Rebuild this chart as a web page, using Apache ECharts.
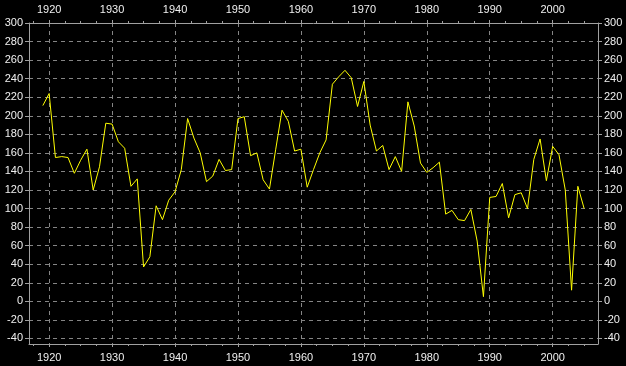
<!DOCTYPE html>
<html>
<head>
<meta charset="utf-8">
<script src="https://cdn.jsdelivr.net/npm/echarts@6/dist/echarts.min.js"></script>
<style>
html,body{margin:0;padding:0;background:#000;}
#c{width:626px;height:366px;}
</style>
</head>
<body>
<div id="c"></div>
<script>
const years = [];
for (let y = 1919; y <= 2005; y++) years.push(y);
const values = [
  211, 224, 155, 156, 155, 138, 152, 164, 120, 145,
  192, 191, 172, 165, 124, 132, 37, 48, 103, 88,
  109, 118, 142, 197, 176, 160, 129, 135, 153, 141,
  142, 197, 199, 157, 160, 131, 121, 164, 206, 194,
  162, 164, 123, 142, 160, 174, 234, 242, 249, 241,
  210, 237, 190, 162, 168, 142, 156, 140, 215, 189,
  149, 139, 144, 150, 94, 98, 88, 87, 99, 65,
  5, 112, 113, 127, 90, 115, 117, 100, 153, 175,
  130, 167, 158, 120, 12, 124, 100
];
const xMajorTicks = [1920, 1930, 1940, 1950, 1960, 1970, 1980, 1990, 2000];
const xMinorTicks = [1917.5, 1922.5, 1925, 1927.5, 1932.5, 1935, 1937.5, 1942.5, 1945, 1947.5,
  1952.5, 1955, 1957.5, 1962.5, 1965, 1967.5, 1972.5, 1975, 1977.5, 1982.5, 1985, 1987.5,
  1992.5, 1995, 1997.5, 2002.5, 2005];
const yTicks = [-40, -20, 0, 20, 40, 60, 80, 100, 120, 140, 160, 180, 200, 220, 240, 260, 280, 300];

const X_MIN = 1916.8, X_MAX = 2007.2, Y_MIN = -46, Y_MAX = 300;
const axisCol = '#a0a0a0', gridCol = '#858585', textCol = '#f0f0f0';
const font = {color: textCol, fontSize: 11, fontFamily: 'Liberation Sans, Arial, sans-serif'};
const plain = v => String(v);

function xAxisMajor(pos, split) {
  return {
    type: 'value', position: pos, min: X_MIN, max: X_MAX,
    axisLine: {show: true, onZero: false, lineStyle: {color: axisCol, width: 1}},
    axisTick: {show: true, inside: false, length: 3, customValues: xMajorTicks, lineStyle: {color: axisCol}},
    axisLabel: Object.assign({show: true, margin: 8, customValues: xMajorTicks, formatter: plain}, font),
    splitLine: {show: split, lineStyle: {color: gridCol, type: [4, 4], width: 1}}
  };
}
function xAxisMinor(pos) {
  return {
    type: 'value', position: pos, min: X_MIN, max: X_MAX,
    axisLine: {show: false, onZero: false},
    axisTick: {show: true, inside: false, length: 2, customValues: xMinorTicks, lineStyle: {color: axisCol}},
    axisLabel: {show: false},
    splitLine: {show: false}
  };
}
function yAxis(pos, split) {
  return {
    type: 'value', position: pos, min: Y_MIN, max: Y_MAX,
    axisLine: {show: true, onZero: false, lineStyle: {color: axisCol, width: 1}},
    axisTick: {show: true, inside: false, length: 4, customValues: yTicks, lineStyle: {color: axisCol}},
    axisLabel: Object.assign({show: true, margin: 6, customValues: yTicks, formatter: plain}, font),
    splitLine: {show: split, lineStyle: {color: gridCol, type: [4, 4], width: 1}}
  };
}

const chart = echarts.init(document.getElementById('c'), null, {renderer: 'canvas'});
chart.setOption({
  backgroundColor: '#000000',
  animation: false,
  grid: {left: 29, right: 28, top: 23, bottom: 22, containLabel: false, outerBoundsMode: 'none'},
  xAxis: [xAxisMajor('bottom', true), xAxisMajor('top', false), xAxisMinor('bottom'), xAxisMinor('top')],
  yAxis: [yAxis('left', true), yAxis('right', false)],
  series: [{
    type: 'line',
    xAxisIndex: 0, yAxisIndex: 0,
    data: years.map((y, i) => [y, values[i]]),
    symbol: 'none',
    lineStyle: {color: '#ffff00', width: 1},
    itemStyle: {color: '#ffff00'},
    silent: true
  }]
});
</script>
</body>
</html>
